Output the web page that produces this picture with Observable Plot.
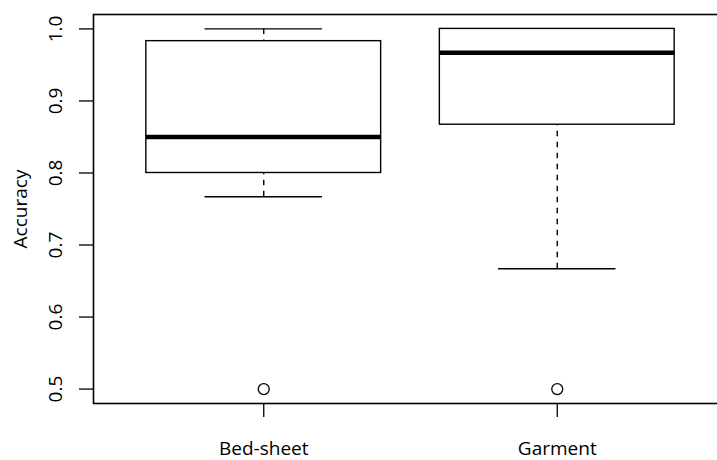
<!DOCTYPE html>
<html>
<head>
<meta charset="utf-8">
<script src="https://cdn.jsdelivr.net/npm/d3@7"></script>
<script src="https://cdn.jsdelivr.net/npm/@observablehq/plot@0.6"></script>
<style>
  html, body { margin: 0; padding: 0; background: #fff; }
  #chart svg { display: block; }
</style>
</head>
<body>
<div id="chart"></div>
<script>
const categories = ["Bed-sheet", "Garment"];
const whiskerLow = [0.767, 0.667];
const q1 = [0.800, 0.867];
const median = [0.850, 0.967];
const q3 = [0.983, 1.000];
const whiskerHigh = [1.000, 1.000];
const outlierCategory = ["Bed-sheet", "Garment"];
const outlierValue = [0.5, 0.5];
const yTicks = [0.5, 0.6, 0.7, 0.8, 0.9, 1.0];
const yLabel = "Accuracy";

const boxes = categories.map((c, i) => ({
  pos: i + 1, name: c,
  lo: whiskerLow[i], q1: q1[i], med: median[i], q3: q3[i], hi: whiskerHigh[i]
}));
const outliers = outlierCategory.map((c, i) => ({pos: categories.indexOf(c) + 1, v: outlierValue[i]}));

const FONT = "Open Sans";
const FS = 19;
const chart = Plot.plot({
  width: 717,
  height: 460,
  marginLeft: 93,
  marginRight: -10,
  marginTop: 14,
  marginBottom: 57,
  style: {fontFamily: FONT, background: "#fff", color: "#000"},
  x: {domain: [0.42, 2.58], axis: null},
  y: {domain: [0.48, 1.02], axis: null},
  marks: [
    // whiskers (dashed), drawn from whisker end toward hinge
    Plot.ruleX(boxes, {x: "pos", y1: "lo", y2: "q1", stroke: "#000", strokeWidth: 1.4, strokeDasharray: "5.5,5.5"}),
    Plot.ruleX(boxes.filter(d => d.hi > d.q3), {x: "pos", y1: "hi", y2: "q3", stroke: "#000", strokeWidth: 1.4, strokeDasharray: "5.5,5.5"}),
    // whisker caps
    Plot.ruleY(boxes, {y: "lo", x1: d => d.pos - 0.2, x2: d => d.pos + 0.2, stroke: "#000", strokeWidth: 1.4}),
    Plot.ruleY(boxes, {y: "hi", x1: d => d.pos - 0.2, x2: d => d.pos + 0.2, stroke: "#000", strokeWidth: 1.4}),
    // boxes
    Plot.rect(boxes, {x1: d => d.pos - 0.4, x2: d => d.pos + 0.4, y1: "q1", y2: "q3", fill: "#fff", stroke: "#000", strokeWidth: 1.4}),
    // medians
    Plot.ruleY(boxes, {y: "med", x1: d => d.pos - 0.4, x2: d => d.pos + 0.4, stroke: "#000", strokeWidth: 4.6}),
    // outliers
    Plot.dot(outliers, {x: "pos", y: "v", r: 5.5, stroke: "#000", strokeWidth: 1.3, fill: "none"}),
    // frame
    Plot.frame({stroke: "#000", strokeWidth: 1.6}),
    // axes
    Plot.axisX({ticks: [1, 2], tickFormat: i => categories[i - 1], tickSize: 14, tickPadding: 24, fontSize: FS, label: null, stroke: "#000", strokeWidth: 1.3}),
    Plot.axisY({ticks: yTicks, tickFormat: d => d.toFixed(1), tickSize: 14, tickPadding: 18, tickRotate: -90, textAnchor: "middle", lineAnchor: "bottom", fontSize: FS, label: null, stroke: "#000", strokeWidth: 1.3}),
    Plot.text([yLabel], {text: d => d, frameAnchor: "left", dx: -67, rotate: -90, lineAnchor: "bottom", textAnchor: "middle", fontSize: FS, fill: "#000"})
  ]
});
document.getElementById("chart").appendChild(chart);
</script>
</body>
</html>
